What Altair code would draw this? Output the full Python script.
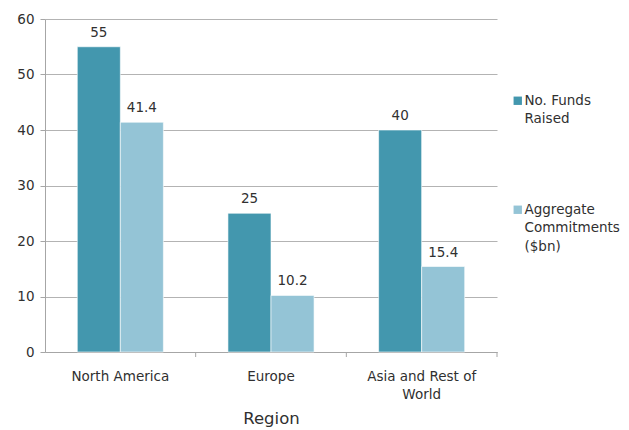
import altair as alt
import pandas as pd

regions = ["North America", "Europe", "Asia and Rest of World"]
series = ["No. Funds Raised", "Aggregate Commitments ($bn)"]
funds_raised = [55, 25, 40]
commitments = [41.4, 10.2, 15.4]

rows = []
for i, r in enumerate(regions):
    rows.append({"region": r, "series": series[0], "value": funds_raised[i]})
    rows.append({"region": r, "series": series[1], "value": commitments[i]})
df = pd.DataFrame(rows)

FONT = "DejaVu Sans"
TXT = "#303030"
FS = 13.5
W, H = 452, 333

x_enc = alt.X(
    "region:N",
    sort=regions,
    title="Region",
    scale=alt.Scale(paddingInner=0, paddingOuter=0),
    axis=alt.Axis(
        labelAngle=0,
        labelExpr="datum.value == 'Asia and Rest of World' ? ['Asia and Rest of', 'World'] : datum.value",
        labelFont=FONT, labelFontSize=FS, labelColor=TXT, labelPadding=17,
        labelLineHeight=18.5,
        titleFont=FONT, titleFontSize=16.5, titleFontWeight="normal", titleColor=TXT,
        titlePadding=9,
        domainColor="#a6a6a6", ticks=False,
    ),
)

color = alt.Color(
    "series:N",
    sort=series,
    scale=alt.Scale(domain=series, range=["#4397ae", "#94c4d6"]),
    legend=alt.Legend(
        title=None, orient="none", legendX=466, legendY=75,
        symbolType="square", symbolSize=70, symbolStrokeWidth=0,
        labelFont=FONT, labelFontSize=FS, labelColor=TXT,
        labelExpr="datum.label == 'No. Funds Raised' ? ['No. Funds', 'Raised'] : ['Aggregate', 'Commitments', '($bn)']",
        labelBaseline="middle", labelOffset=0, rowPadding=76, labelLimit=200,
    ),
)

base = alt.Chart(df).encode(
    x=x_enc,
    xOffset=alt.XOffset("series:N", sort=series,
                        scale=alt.Scale(paddingInner=0, paddingOuter=0.75)),
    y=alt.Y("value:Q",
            scale=alt.Scale(domain=[0, 60]),
            axis=alt.Axis(values=[0, 10, 20, 30, 40, 50, 60], title=None,
                          labelFont=FONT, labelFontSize=FS, labelColor=TXT,
                          labelPadding=6, domainColor="#a6a6a6",
                          tickColor="#a6a6a6", tickSize=5,
                          gridColor="#b3b3b3", gridWidth=1)),
)

bars = base.mark_bar(stroke="white", strokeWidth=0.6).encode(color=color)
labels = base.mark_text(dy=-7, baseline="bottom", font=FONT, fontSize=FS,
                        color=TXT).encode(text=alt.Text("value:Q"))

# tick marks at the band boundaries of the category axis
bounds = pd.DataFrame({"region": regions})
edge_ticks = alt.Chart(bounds).mark_rule(color="#a6a6a6").encode(
    x=alt.X("region:N", sort=regions, bandPosition=1),
    y=alt.value(H), y2=alt.value(H + 5),
)

chart = alt.layer(bars, labels, edge_ticks).properties(
    width=W, height=H,
    autosize=alt.AutoSizeParams(type="none"),
    padding={"left": 45, "top": 19, "right": 629 - 45 - W, "bottom": 430 - 19 - H},
).configure(
    view={"stroke": None},
    axisX={"grid": False},
    style={"guide-label": {"lineHeight": 18.5}},
)

chart.save("out.html", embed_options={"renderer": "svg", "actions": False})
